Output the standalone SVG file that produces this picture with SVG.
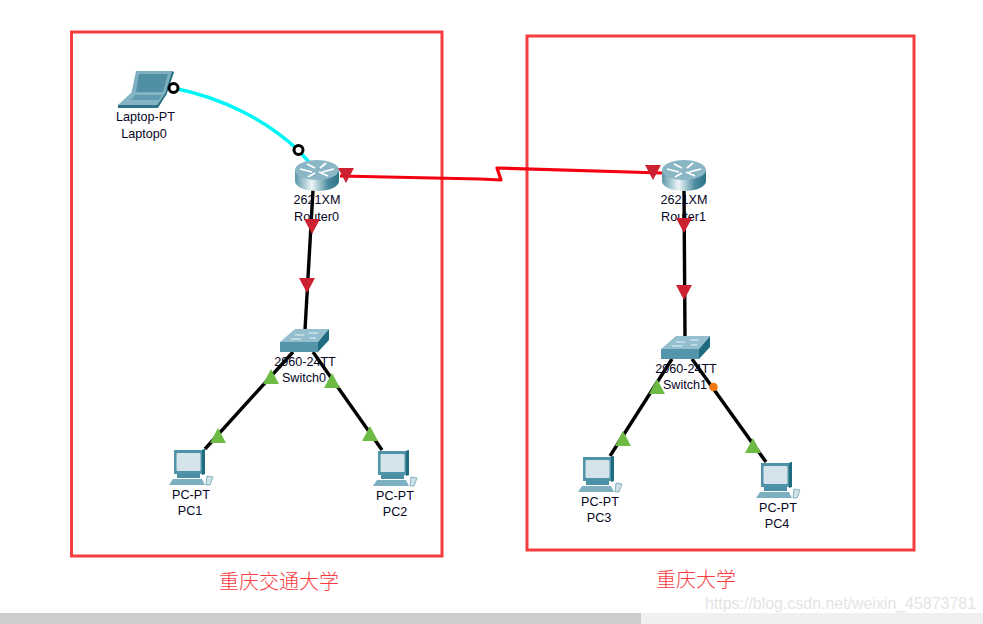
<svg xmlns="http://www.w3.org/2000/svg" xmlns:xlink="http://www.w3.org/1999/xlink" width="983" height="624" viewBox="0 0 983 624">
<style>
.frame{fill:none;stroke:#f73c3f;stroke-width:3}
.lbl{font:12.600px "Liberation Sans",Arial,sans-serif;fill:#05051e;text-anchor:middle}
.cap{font:300 20px "Noto Sans CJK SC","Liberation Sans",sans-serif;fill:#f73c3f}
.wire{fill:none;stroke:#000;stroke-width:3.400}
.up{fill:#6dbb45}.dn{fill:#cb2131}
</style>
<defs>
<linearGradient id="rg" x1="0" x2="1" y1="0" y2="0"><stop offset="0" stop-color="#5b97a8"/><stop offset=".38" stop-color="#eef6f8"/><stop offset=".75" stop-color="#4b8ba0"/><stop offset="1" stop-color="#2f7387"/></linearGradient>
<g id="router">
<path d="M0 10V21C0 27 10 31 22 31S44 27 44 21V10Z" fill="url(#rg)"/>
<ellipse cx="22" cy="10" rx="22" ry="10" fill="#8ab6c6"/>
<path d="M5 9 17 12M39 9 27 12M13 17 20 13M31 3 25 8M12 4 20 8M33 16 24 12" stroke="#fff" stroke-width="1.800" fill="none"/>
</g>
<g id="switch">
<path d="M0 13 15 0H49L38 13Z" fill="#93bfce"/>
<path d="M0 13H38V23H0Z" fill="#5595ab"/>
<path d="M38 13 49 0V11L38 23Z" fill="#1f6b80"/>
<path d="M15 6H24M29 4H38M11 10H21M30 9H36" stroke="#e8f3f5" stroke-width="1" fill="none"/>
</g>
<g id="pc">
<path d="M5 1H33L36 0V25H5Z" fill="#4f93a9"/>
<path d="M33 1 36 0V25L33 26Z" fill="#1f6b80"/>
<rect x="7.500" y="4" width="24" height="18" rx="1" fill="#d5e4ea"/>
<path d="M8 25H31V29H8Z" fill="#4a8fa6"/>
<path d="M4 30H33L36 36H0Z" fill="#7cb0c1"/>
<path d="M38 27 44 28 41 36H37Z" fill="#cfe0e6" stroke="#6aa5b8" stroke-width=".8"/>
</g>
<g id="laptop">
<path d="M18 0H54L48 24H13Z" fill="#7fb0c1"/>
<path d="M21 3H50L45 21H18Z" fill="#518fa5"/>
<path d="M54 0 56 1 48 25 47 24Z" fill="#1f6b80"/>
<path d="M13 22H47L39 34H0Z" fill="#84b3c3"/>
<path d="M17 24H44L41 29H13Z" fill="#5e9bb0"/>
<path d="M47 22 48 24 40 37H0V34H39Z" fill="#2f7387"/>
</g>
<path id="tu" d="M0 -8 8 7H-8Z"/>
<path id="td" d="M-8 -7H8L0 8Z"/>
</defs>
<rect width="983" height="624" fill="#fff"/>
<g id="frames">
<rect class="frame" x="71.500" y="32" width="370.500" height="524"/>
<rect class="frame" x="527" y="36" width="387" height="514"/>
</g>
<g id="connectors">
<path d="M173 88C225 98 268 122 298 150L310 163" fill="none" stroke="#00f5f5" stroke-width="3.400"/>
<path d="M340 176 480 179 501 180 497 168 662 173" fill="none" stroke="#f40010" stroke-width="3.200" stroke-linejoin="round"/>
<path class="wire" d="M313 190 305 330"/>
<path class="wire" d="M684 190 685 336"/>
<path class="wire" d="M293 352 205 449"/>
<path class="wire" d="M313 352 382 450"/>
<path class="wire" d="M672 359 610 456"/>
<path class="wire" d="M692 359 766 462"/>
</g>
<g id="Laptop0"><use xlink:href="#laptop" href="#laptop" x="118" y="71"/><text class="lbl" x="145.500" y="121">Laptop-PT</text><text class="lbl" x="144" y="138">Laptop0</text></g>
<g id="Router0"><use xlink:href="#router" href="#router" x="295" y="160"/><text class="lbl" x="317" y="204">2621XM</text><text class="lbl" x="316.500" y="221">Router0</text></g>
<g id="Router1"><use xlink:href="#router" href="#router" x="662" y="160"/><text class="lbl" x="684" y="204">2621XM</text><text class="lbl" x="683.500" y="221">Router1</text></g>
<g id="Switch0"><use xlink:href="#switch" href="#switch" x="280" y="329"/><text class="lbl" x="305" y="366">2960-24TT</text><text class="lbl" x="304" y="382">Switch0</text></g>
<g id="Switch1"><use xlink:href="#switch" href="#switch" x="661" y="336"/><text class="lbl" x="686" y="373">2960-24TT</text><text class="lbl" x="685" y="389">Switch1</text></g>
<g id="PC1"><use xlink:href="#pc" href="#pc" x="169" y="449"/><text class="lbl" x="191" y="499">PC-PT</text><text class="lbl" x="190" y="515">PC1</text></g>
<g id="PC2"><use xlink:href="#pc" href="#pc" x="373" y="450"/><text class="lbl" x="395" y="500">PC-PT</text><text class="lbl" x="395" y="516">PC2</text></g>
<g id="PC3"><use xlink:href="#pc" href="#pc" x="578" y="456"/><text class="lbl" x="600" y="506">PC-PT</text><text class="lbl" x="599" y="522">PC3</text></g>
<g id="PC4"><use xlink:href="#pc" href="#pc" x="756" y="462"/><text class="lbl" x="778" y="512">PC-PT</text><text class="lbl" x="777" y="528">PC4</text></g>
<g id="status">
<circle cx="173.500" cy="88" r="4.500" fill="#fff" stroke="#000" stroke-width="3"/>
<circle cx="298.500" cy="150" r="4.500" fill="#fff" stroke="#000" stroke-width="3"/>
<use class="dn" xlink:href="#td" href="#td" x="346" y="175"/>
<use class="dn" xlink:href="#td" href="#td" x="653" y="172"/>
<use class="dn" xlink:href="#td" href="#td" x="312" y="226"/>
<use class="dn" xlink:href="#td" href="#td" x="307" y="285"/>
<use class="dn" xlink:href="#td" href="#td" x="684" y="225"/>
<use class="dn" xlink:href="#td" href="#td" x="684" y="292"/>
<use class="up" xlink:href="#tu" href="#tu" x="271" y="377"/>
<use class="up" xlink:href="#tu" href="#tu" x="332" y="381"/>
<use class="up" xlink:href="#tu" href="#tu" x="218" y="436"/>
<use class="up" xlink:href="#tu" href="#tu" x="370" y="434"/>
<use class="up" xlink:href="#tu" href="#tu" x="657" y="387"/>
<use class="up" xlink:href="#tu" href="#tu" x="623" y="439"/>
<use class="up" xlink:href="#tu" href="#tu" x="753" y="446"/>
<circle cx="713.500" cy="387" r="4.300" fill="#f07a10"/>
</g>
<text class="cap" x="219" y="589">重庆交通大学</text>
<text class="cap" x="656" y="587">重庆大学</text>
<rect x="0" y="613" width="983" height="11" fill="#f0f0f0"/>
<rect x="0" y="613" width="641" height="11" fill="#cdcdcd"/>
<text x="705" y="609" font-family="Liberation Sans, sans-serif" font-size="16" fill="#e4e4e4" textLength="271" lengthAdjust="spacingAndGlyphs">https://blog.csdn.net/weixin_45873781</text>
</svg>
